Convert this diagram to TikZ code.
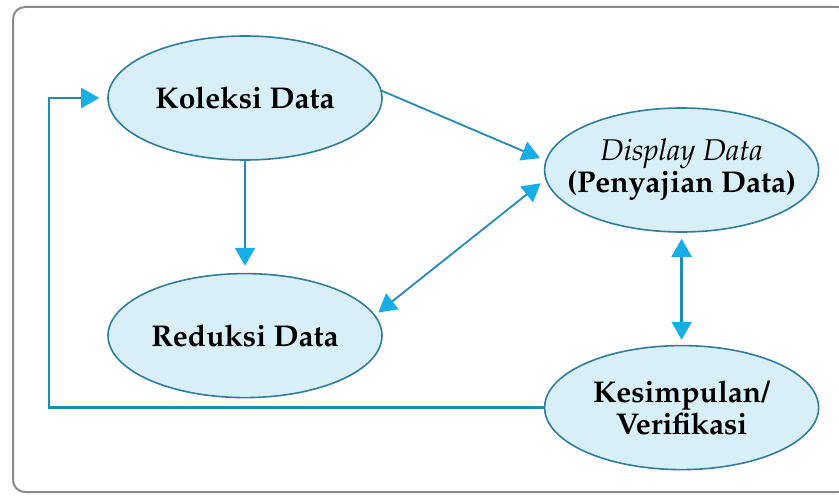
\documentclass[tikz,border=0pt]{standalone}
\usepackage[T1]{fontenc}
\usepackage{mathpazo}
\usetikzlibrary{arrows.meta,positioning,shapes.geometric}
\definecolor{BubbleFill}{HTML}{D9EFF8}
\definecolor{BubbleEdge}{HTML}{2E7D9E}
\definecolor{FlowBlue}{HTML}{2389B8}
\definecolor{TipCyan}{HTML}{17ADE6}
\definecolor{FrameGray}{HTML}{8A8A8A}

\begin{document}
\begin{tikzpicture}[
        x=0.5pt, y=-0.5pt,
        node distance=56pt and 80.5pt,
        bubble/.style={ellipse, draw=BubbleEdge, line width=0.8pt, fill=BubbleFill, minimum width=137pt, minimum height=62pt, inner sep=0pt, align=center, font=\fontsize{15}{16}\selectfont\bfseries},
        oneway/.style={-{Triangle[length=9pt,width=10pt,color=TipCyan]}, draw=FlowBlue, line width=1.2pt},
        twoway/.style={{Triangle[length=9pt,width=10pt,color=TipCyan]}-{Triangle[length=9pt,width=10pt,color=TipCyan]}, draw=FlowBlue, line width=1.2pt}
      ]
        \useasboundingbox (0,0) rectangle (839,497);
        % Frame
        \draw[FrameGray, line width=1pt, rounded corners=6pt] (13,7) rectangle (850,492);

        % Four stages
        \node[bubble] (koleksi) at (245,98) {Koleksi Data};
        \node[bubble, below=of koleksi] (reduksi) {Reduksi Data};
        \node[bubble, inner xsep=-16pt, right=of koleksi, yshift=-36pt] (display) {\textmd{\textit{Display Data}}\\(Penyajian Data)};
        \node[bubble, inner xsep=-4pt, below=of display] (kesimpulan) {Kesimpulan/\\Verifikasi};

        % Arrows
        \draw[oneway, shorten >=3.5pt] (koleksi) -- (reduksi);
        \draw[oneway, line width=0.9pt, shorten >=3pt] (koleksi.3) -- (display.176);
        \draw[twoway, line width=0.9pt, shorten <=3pt, shorten >=2pt] (display.184) -- (reduksi.9);
        \draw[twoway, shorten <=3pt, shorten >=2.5pt] (display) -- (kesimpulan);
        \draw[oneway, shorten >=4pt] (kesimpulan.west) -- ++(-495,0) |- (koleksi.west);
      \end{tikzpicture}
\end{document}
